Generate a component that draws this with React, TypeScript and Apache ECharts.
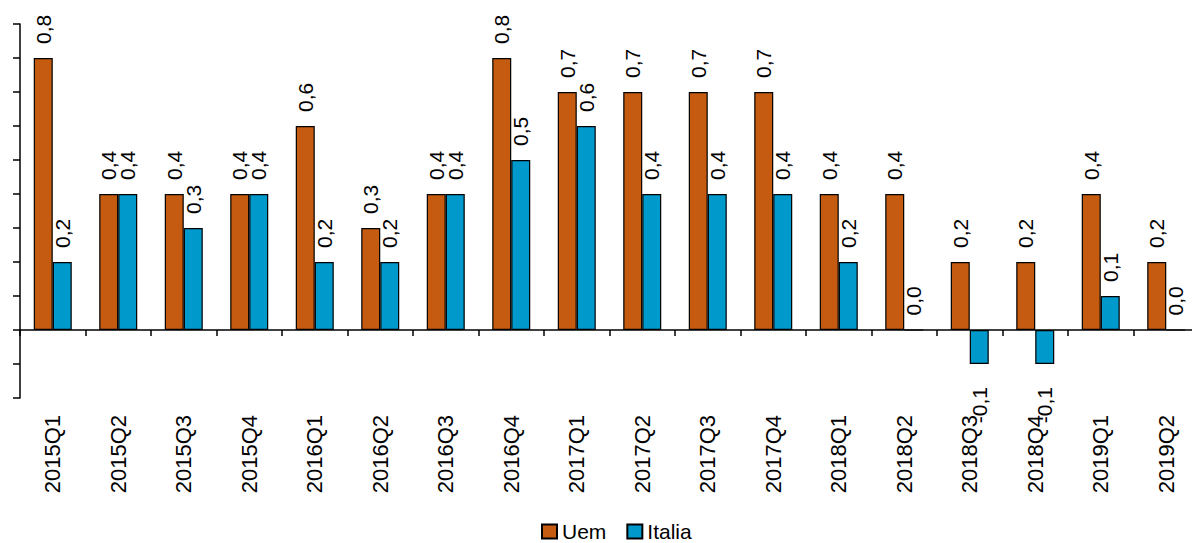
import React, { useEffect, useRef } from "react";
import * as echarts from "echarts";

const categories = [
  "2015Q1", "2015Q2", "2015Q3", "2015Q4",
  "2016Q1", "2016Q2", "2016Q3", "2016Q4",
  "2017Q1", "2017Q2", "2017Q3", "2017Q4",
  "2018Q1", "2018Q2", "2018Q3", "2018Q4",
  "2019Q1", "2019Q2",
];
const uem = [0.8, 0.4, 0.4, 0.4, 0.6, 0.3, 0.4, 0.8, 0.7, 0.7, 0.7, 0.7, 0.4, 0.4, 0.2, 0.2, 0.4, 0.2];
const italia = [0.2, 0.4, 0.3, 0.4, 0.2, 0.2, 0.4, 0.5, 0.6, 0.4, 0.4, 0.4, 0.2, 0.0, -0.1, -0.1, 0.1, 0.0];

const FONT = "'Liberation Sans', Arial, sans-serif";

const fmt = (v: number) => v.toFixed(1).replace(".", ",");

function toData(vals: number[]) {
  return vals.map((v) =>
    v < 0
      ? {
          value: v,
          label: { position: "bottom", align: "right", distance: 23 },
        }
      : { value: v }
  );
}

export default function App() {
  const ref = useRef<HTMLDivElement>(null);
  useEffect(() => {
    if (!ref.current) return;
    const chart = echarts.init(ref.current, null, { renderer: "svg" });
    const labelBase = {
      show: true,
      position: "top",
      distance: 14,
      rotate: 90,
      align: "left",
      verticalAlign: "middle",
      fontSize: 21,
      fontFamily: FONT,
      color: "#000",
      formatter: (p: any) => fmt(p.value),
    };
    chart.setOption({
      animation: false,
      textStyle: { fontFamily: FONT },
      grid: { left: 20, right: -7, top: 24, height: 374, outerBoundsMode: "none", containLabel: false },
      legend: {
        top: 521,
        left: 541,
        padding: 0,
        icon: "rect",
        itemWidth: 15,
        itemHeight: 14,
        itemGap: 20,
        textStyle: { fontSize: 21, color: "#000", fontFamily: FONT },
        data: ["Uem", "Italia"],
      },
      xAxis: {
        type: "category",
        data: categories,
        axisLine: { onZero: true, lineStyle: { color: "#000", width: 1.5 } },
        axisTick: { show: true, alignWithLabel: false, length: 6, lineStyle: { color: "#000", width: 1.5 } },
        axisLabel: {
          interval: 0,
          rotate: 90,
          margin: 17,
          fontSize: 22,
          color: "#000",
          fontFamily: FONT,
        },
      },
      yAxis: {
        type: "value",
        min: -0.2,
        max: 0.9,
        interval: 0.1,
        axisLine: { show: true, lineStyle: { color: "#000", width: 1.5 } },
        axisTick: { show: true, length: 7, lineStyle: { color: "#000", width: 1.5 } },
        axisLabel: { show: false },
        splitLine: { show: false },
      },
      series: [
        {
          name: "Uem",
          type: "bar",
          barWidth: 19,
          barGap: "0%",
          data: toData(uem),
          itemStyle: { color: "#C55A11", borderColor: "#000", borderWidth: 1.2 },
          label: labelBase,
        },
        {
          name: "Italia",
          type: "bar",
          barWidth: 19,
          barGap: "0%",
          data: toData(italia),
          itemStyle: { color: "#0099CC", borderColor: "#000", borderWidth: 1.2 },
          label: labelBase,
        },
      ],
    });
    return () => chart.dispose();
  }, []);
  return (
    <div
      ref={ref}
      style={{ position: "fixed", left: 0, top: 0, width: 1192, height: 543, background: "#fff" }}
    />
  );
}
